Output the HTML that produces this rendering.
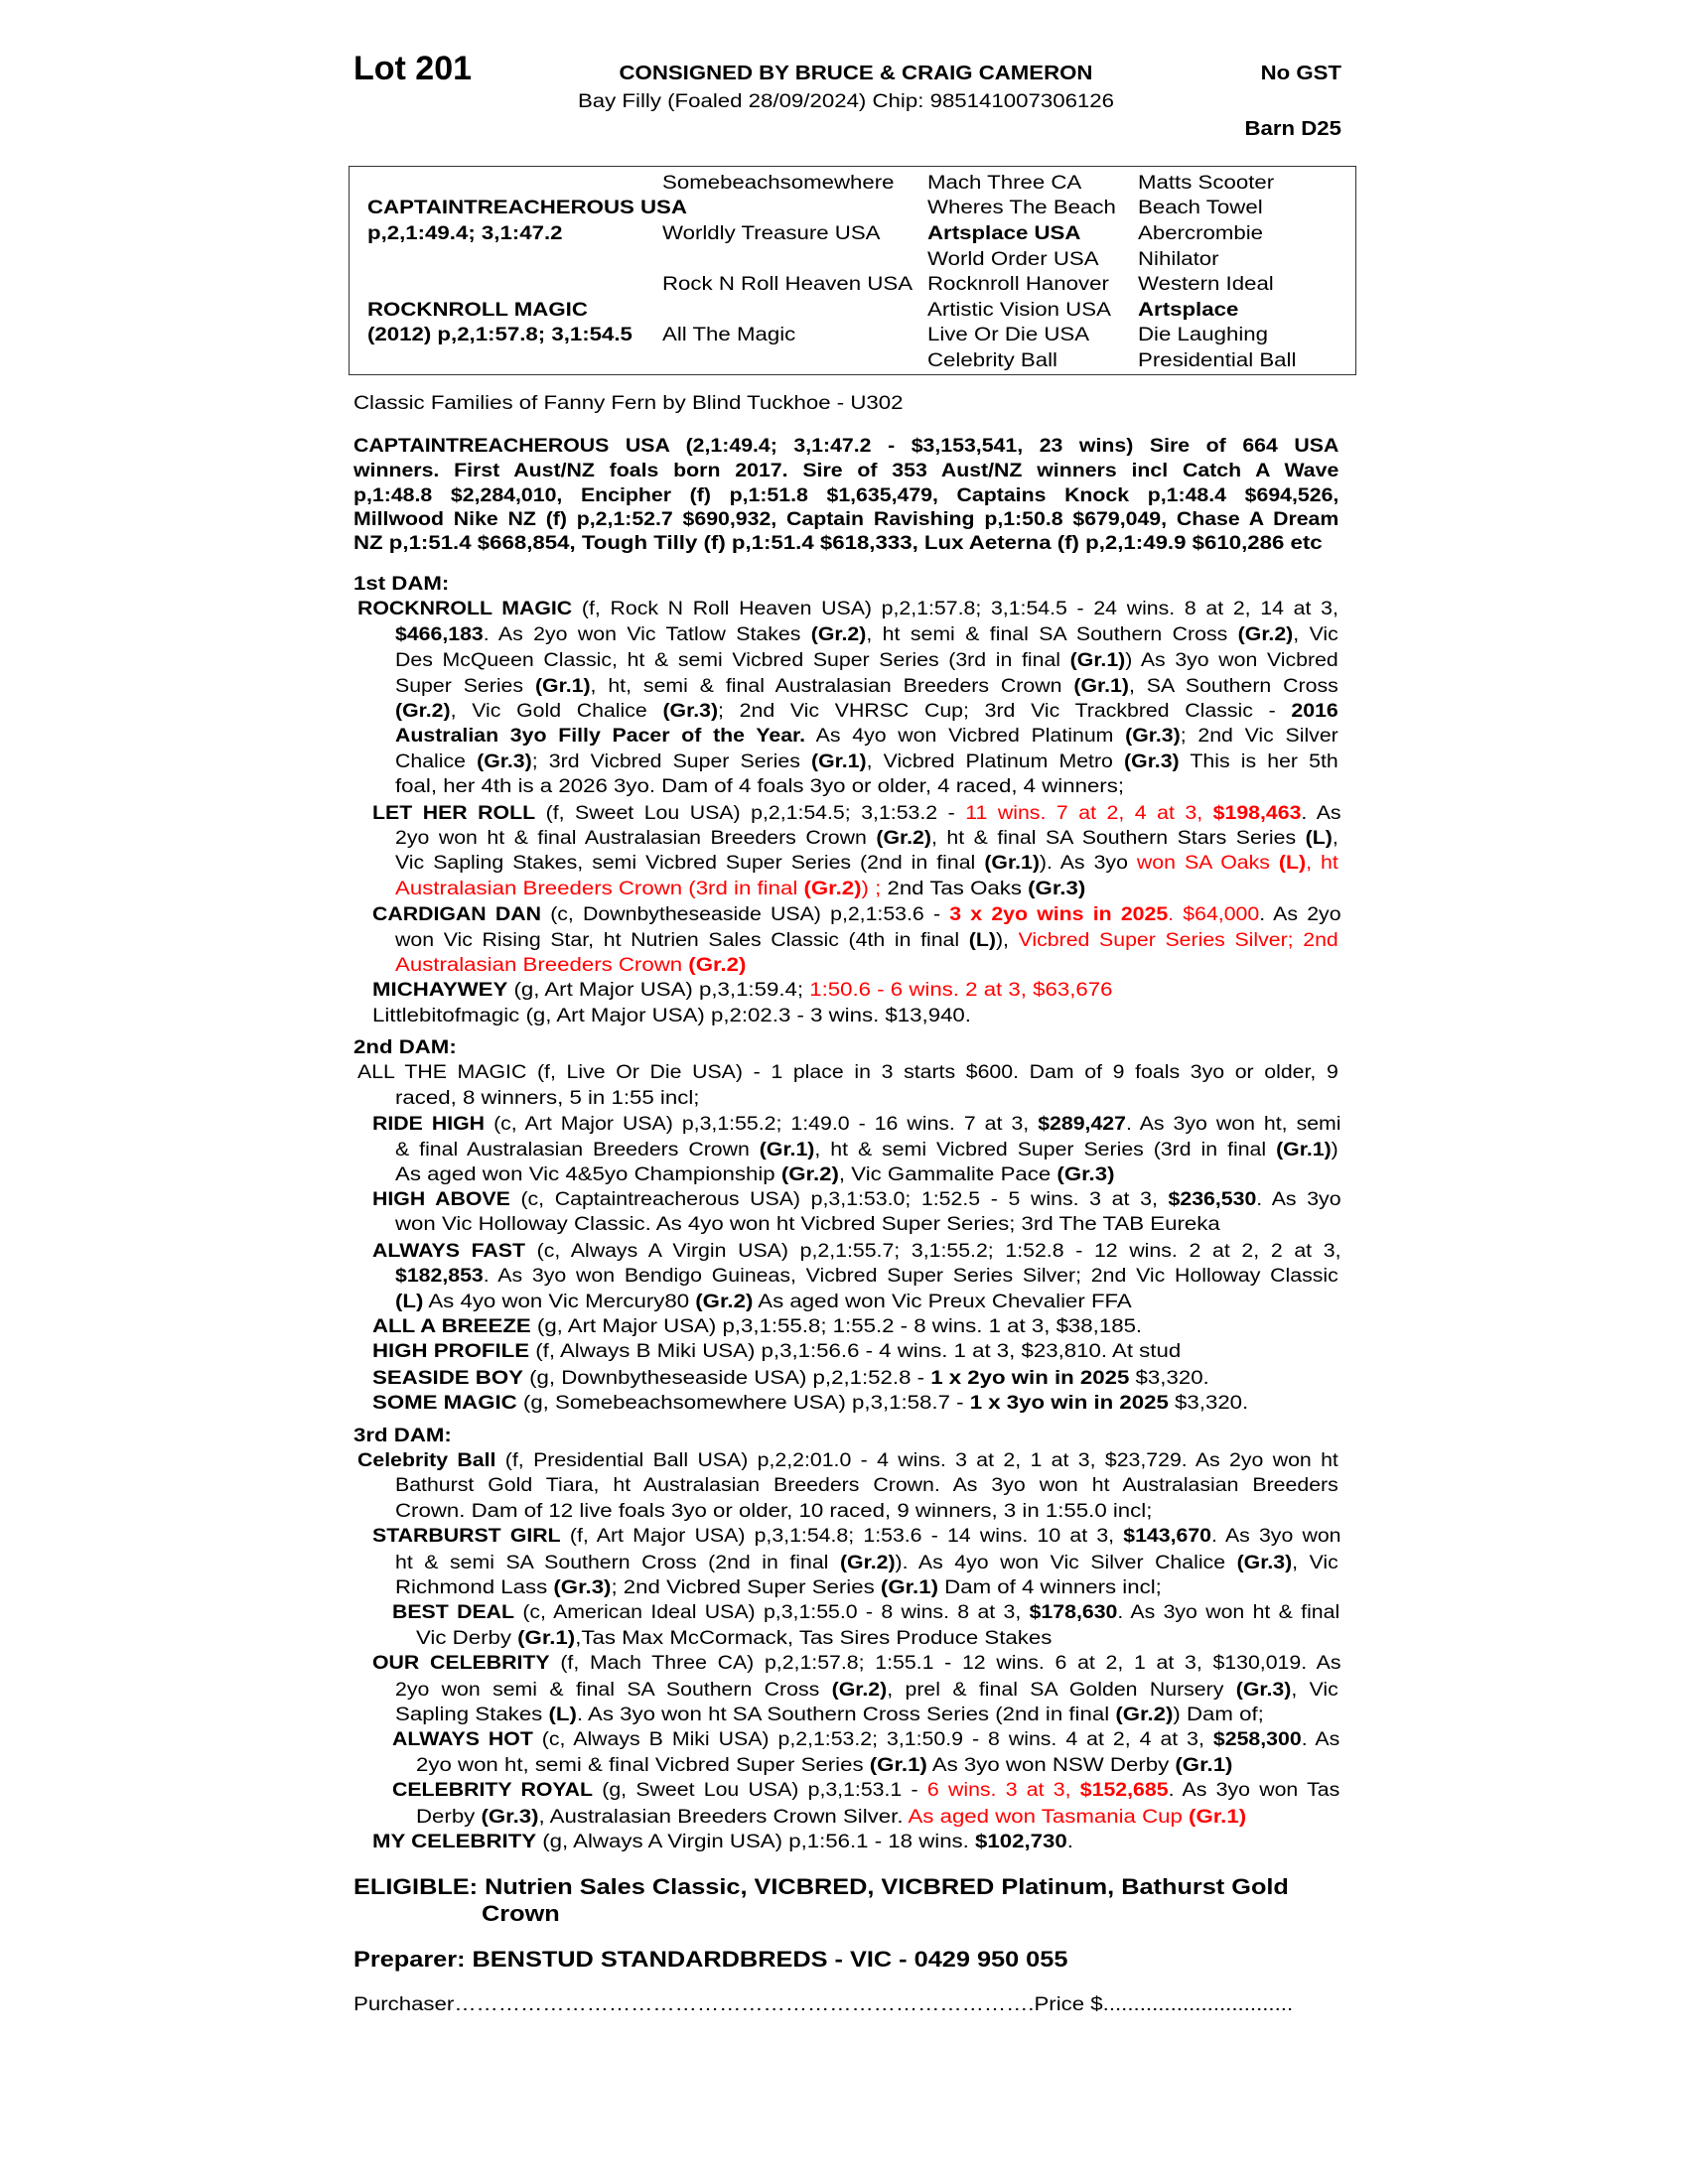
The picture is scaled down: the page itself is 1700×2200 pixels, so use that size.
<!DOCTYPE html>
<html><head><meta charset="utf-8"><style>
html,body{margin:0;padding:0;background:#fff}
body{width:1700px;height:2200px;position:relative;overflow:hidden;font-family:"Liberation Sans",Arial,sans-serif;color:#000}
.l{position:absolute;font-size:19px;line-height:26px;height:26px;white-space:nowrap;transform:scaleX(1.17);transform-origin:0 0}
.j{white-space:normal;overflow:hidden;text-align:justify;text-align-last:justify;transform:scaleX(1.12)}
.r{color:#f00}
.h{position:absolute;font-weight:bold;white-space:nowrap}
#box{position:absolute;left:351px;top:167px;width:1013px;height:209px;border:1.5px solid #333}
</style></head><body>

<div class="h" style="left:356px;top:49px;font-size:34px;line-height:40px">Lot 201</div>
<div class="h" style="left:562px;top:61px;width:600px;text-align:center;font-size:20px;line-height:26px;transform:scaleX(1.11);transform-origin:50% 0">CONSIGNED BY BRUCE &amp; CRAIG CAMERON</div>
<div class="h" style="left:1151px;top:61px;width:200px;text-align:right;font-size:20px;line-height:26px;transform:scaleX(1.11);transform-origin:100% 0">No GST</div>
<div class="l" style="left:552px;top:90px;width:600px;text-align:center;transform-origin:50% 0">Bay Filly (Foaled 28/09/2024) Chip: 985141007306126</div>
<div class="h" style="left:1151px;top:117px;width:200px;text-align:right;font-size:20px;line-height:26px;transform:scaleX(1.11);transform-origin:100% 0">Barn D25</div>

<div id="box"></div>
<div class="l" style="left:667px;top:172px">Somebeachsomewhere</div>
<div class="l" style="left:934px;top:172px">Mach Three CA</div>
<div class="l" style="left:1146px;top:172px">Matts Scooter</div>
<div class="l" style="left:370px;top:197px"><b>CAPTAINTREACHEROUS USA</b></div>
<div class="l" style="left:934px;top:197px">Wheres The Beach</div>
<div class="l" style="left:1146px;top:197px">Beach Towel</div>
<div class="l" style="left:370px;top:223px"><b>p,2,1:49.4; 3,1:47.2</b></div>
<div class="l" style="left:667px;top:223px">Worldly Treasure USA</div>
<div class="l" style="left:934px;top:223px"><b>Artsplace USA</b></div>
<div class="l" style="left:1146px;top:223px">Abercrombie</div>
<div class="l" style="left:934px;top:249px">World Order USA</div>
<div class="l" style="left:1146px;top:249px">Nihilator</div>
<div class="l" style="left:667px;top:274px">Rock N Roll Heaven USA</div>
<div class="l" style="left:934px;top:274px">Rocknroll Hanover</div>
<div class="l" style="left:1146px;top:274px">Western Ideal</div>
<div class="l" style="left:370px;top:300px"><b>ROCKNROLL MAGIC</b></div>
<div class="l" style="left:934px;top:300px">Artistic Vision USA</div>
<div class="l" style="left:1146px;top:300px"><b>Artsplace</b></div>
<div class="l" style="left:370px;top:325px"><b>(2012) p,2,1:57.8; 3,1:54.5</b></div>
<div class="l" style="left:667px;top:325px">All The Magic</div>
<div class="l" style="left:934px;top:325px">Live Or Die USA</div>
<div class="l" style="left:1146px;top:325px">Die Laughing</div>
<div class="l" style="left:934px;top:351px">Celebrity Ball</div>
<div class="l" style="left:1146px;top:351px">Presidential Ball</div>

<div class="l" style="left:356px;top:394px">Classic Families of Fanny Fern by Blind Tuckhoe - U302</div>

<div class="l j" style="left:356px;top:437px;width:886px"><b>CAPTAINTREACHEROUS USA (2,1:49.4; 3,1:47.2 - $3,153,541, 23 wins) Sire of 664 USA</b></div>
<div class="l j" style="left:356px;top:462px;width:886px"><b>winners. First Aust/NZ foals born 2017. Sire of 353 Aust/NZ winners incl Catch A Wave</b></div>
<div class="l j" style="left:356px;top:487px;width:886px"><b>p,1:48.8 $2,284,010, Encipher (f) p,1:51.8 $1,635,479, Captains Knock p,1:48.4 $694,526,</b></div>
<div class="l j" style="left:356px;top:511px;width:886px"><b>Millwood Nike NZ (f) p,2,1:52.7 $690,932, Captain Ravishing p,1:50.8 $679,049, Chase A Dream</b></div>
<div class="l" style="left:356px;top:535px"><b>NZ p,1:51.4 $668,854, Tough Tilly (f) p,1:51.4 $618,333, Lux Aeterna (f) p,2,1:49.9 $610,286 etc</b></div>

<div class="l" style="left:356px;top:576px"><b>1st DAM:</b></div>
<div class="l j" style="left:360px;top:601px;width:882px"><b>ROCKNROLL MAGIC</b> (f, Rock N Roll Heaven USA) p,2,1:57.8; 3,1:54.5 - 24 wins. 8 at 2, 14 at 3,</div>
<div class="l j" style="left:398px;top:627px;width:848px"><b>$466,183</b>. As 2yo won Vic Tatlow Stakes <b>(Gr.2)</b>, ht semi &amp; final SA Southern Cross <b>(Gr.2)</b>, Vic</div>
<div class="l j" style="left:398px;top:653px;width:848px">Des McQueen Classic, ht &amp; semi Vicbred Super Series (3rd in final <b>(Gr.1)</b>) As 3yo won Vicbred</div>
<div class="l j" style="left:398px;top:679px;width:848px">Super Series <b>(Gr.1)</b>, ht, semi &amp; final Australasian Breeders Crown <b>(Gr.1)</b>, SA Southern Cross</div>
<div class="l j" style="left:398px;top:704px;width:848px"><b>(Gr.2)</b>, Vic Gold Chalice <b>(Gr.3)</b>; 2nd Vic VHRSC Cup; 3rd Vic Trackbred Classic - <b>2016</b></div>
<div class="l j" style="left:398px;top:729px;width:848px"><b>Australian 3yo Filly Pacer of the Year.</b> As 4yo won Vicbred Platinum <b>(Gr.3)</b>; 2nd Vic Silver</div>
<div class="l j" style="left:398px;top:755px;width:848px">Chalice <b>(Gr.3)</b>; 3rd Vicbred Super Series <b>(Gr.1)</b>, Vicbred Platinum Metro <b>(Gr.3)</b> This is her 5th</div>
<div class="l" style="left:398px;top:780px">foal, her 4th is a 2026 3yo. Dam of 4 foals 3yo or older, 4 raced, 4 winners;</div>
<div class="l j" style="left:375px;top:807px;width:871px"><b>LET HER ROLL</b> (f, Sweet Lou USA) p,2,1:54.5; 3,1:53.2 - <span class="r">11 wins. 7 at 2, 4 at 3, <b>$198,463</b></span>. As</div>
<div class="l j" style="left:398px;top:832px;width:848px">2yo won ht &amp; final Australasian Breeders Crown <b>(Gr.2)</b>, ht &amp; final SA Southern Stars Series <b>(L)</b>,</div>
<div class="l j" style="left:398px;top:857px;width:848px">Vic Sapling Stakes, semi Vicbred Super Series (2nd in final <b>(Gr.1)</b>). As 3yo <span class="r">won SA Oaks <b>(L)</b>, ht</span></div>
<div class="l" style="left:398px;top:883px"><span class="r">Australasian Breeders Crown (3rd in final <b>(Gr.2)</b>) ;</span> 2nd Tas Oaks <b>(Gr.3)</b></div>
<div class="l j" style="left:375px;top:909px;width:871px"><b>CARDIGAN DAN</b> (c, Downbytheseaside USA) p,2,1:53.6 - <span class="r"><b>3 x 2yo wins in 2025</b>. $64,000</span>. As 2yo</div>
<div class="l j" style="left:398px;top:935px;width:848px">won Vic Rising Star, ht Nutrien Sales Classic (4th in final <b>(L)</b>), <span class="r">Vicbred Super Series Silver; 2nd</span></div>
<div class="l" style="left:398px;top:960px"><span class="r">Australasian Breeders Crown <b>(Gr.2)</b></span></div>
<div class="l" style="left:375px;top:985px"><b>MICHAYWEY</b> (g, Art Major USA) p,3,1:59.4; <span class="r">1:50.6 - 6 wins. 2 at 3, $63,676</span></div>
<div class="l" style="left:375px;top:1011px">Littlebitofmagic (g, Art Major USA) p,2:02.3 - 3 wins. $13,940.</div>

<div class="l" style="left:356px;top:1043px"><b>2nd DAM:</b></div>
<div class="l j" style="left:360px;top:1068px;width:882px">ALL THE MAGIC (f, Live Or Die USA) - 1 place in 3 starts $600. Dam of 9 foals 3yo or older, 9</div>
<div class="l" style="left:398px;top:1094px">raced, 8 winners, 5 in 1:55 incl;</div>
<div class="l j" style="left:375px;top:1120px;width:871px"><b>RIDE HIGH</b> (c, Art Major USA) p,3,1:55.2; 1:49.0 - 16 wins. 7 at 3, <b>$289,427</b>. As 3yo won ht, semi</div>
<div class="l j" style="left:398px;top:1146px;width:848px">&amp; final Australasian Breeders Crown <b>(Gr.1)</b>, ht &amp; semi Vicbred Super Series (3rd in final <b>(Gr.1)</b>)</div>
<div class="l" style="left:398px;top:1171px">As aged won Vic 4&amp;5yo Championship <b>(Gr.2)</b>, Vic Gammalite Pace <b>(Gr.3)</b></div>
<div class="l j" style="left:375px;top:1196px;width:871px"><b>HIGH ABOVE</b> (c, Captaintreacherous USA) p,3,1:53.0; 1:52.5 - 5 wins. 3 at 3, <b>$236,530</b>. As 3yo</div>
<div class="l" style="left:398px;top:1221px">won Vic Holloway Classic. As 4yo won ht Vicbred Super Series; 3rd The TAB Eureka</div>
<div class="l j" style="left:375px;top:1248px;width:871px"><b>ALWAYS FAST</b> (c, Always A Virgin USA) p,2,1:55.7; 3,1:55.2; 1:52.8 - 12 wins. 2 at 2, 2 at 3,</div>
<div class="l j" style="left:398px;top:1273px;width:848px"><b>$182,853</b>. As 3yo won Bendigo Guineas, Vicbred Super Series Silver; 2nd Vic Holloway Classic</div>
<div class="l" style="left:398px;top:1299px"><b>(L)</b> As 4yo won Vic Mercury80 <b>(Gr.2)</b> As aged won Vic Preux Chevalier FFA</div>
<div class="l" style="left:375px;top:1324px"><b>ALL A BREEZE</b> (g, Art Major USA) p,3,1:55.8; 1:55.2 - 8 wins. 1 at 3, $38,185.</div>
<div class="l" style="left:375px;top:1349px"><b>HIGH PROFILE</b> (f, Always B Miki USA) p,3,1:56.6 - 4 wins. 1 at 3, $23,810. At stud</div>
<div class="l" style="left:375px;top:1376px"><b>SEASIDE BOY</b> (g, Downbytheseaside USA) p,2,1:52.8 - <b>1 x 2yo win in 2025</b> $3,320.</div>
<div class="l" style="left:375px;top:1401px"><b>SOME MAGIC</b> (g, Somebeachsomewhere USA) p,3,1:58.7 - <b>1 x 3yo win in 2025</b> $3,320.</div>

<div class="l" style="left:356px;top:1434px"><b>3rd DAM:</b></div>
<div class="l j" style="left:360px;top:1459px;width:882px"><b>Celebrity Ball</b> (f, Presidential Ball USA) p,2,2:01.0 - 4 wins. 3 at 2, 1 at 3, $23,729. As 2yo won ht</div>
<div class="l j" style="left:398px;top:1484px;width:848px">Bathurst Gold Tiara, ht Australasian Breeders Crown. As 3yo won ht Australasian Breeders</div>
<div class="l" style="left:398px;top:1510px">Crown. Dam of 12 live foals 3yo or older, 10 raced, 9 winners, 3 in 1:55.0 incl;</div>
<div class="l j" style="left:375px;top:1535px;width:871px"><b>STARBURST GIRL</b> (f, Art Major USA) p,3,1:54.8; 1:53.6 - 14 wins. 10 at 3, <b>$143,670</b>. As 3yo won</div>
<div class="l j" style="left:398px;top:1562px;width:848px">ht &amp; semi SA Southern Cross (2nd in final <b>(Gr.2)</b>). As 4yo won Vic Silver Chalice <b>(Gr.3)</b>, Vic</div>
<div class="l" style="left:398px;top:1587px">Richmond Lass <b>(Gr.3)</b>; 2nd Vicbred Super Series <b>(Gr.1)</b> Dam of 4 winners incl;</div>
<div class="l j" style="left:395px;top:1612px;width:852px"><b>BEST DEAL</b> (c, American Ideal USA) p,3,1:55.0 - 8 wins. 8 at 3, <b>$178,630</b>. As 3yo won ht &amp; final</div>
<div class="l" style="left:419px;top:1638px">Vic Derby <b>(Gr.1)</b>,Tas Max McCormack, Tas Sires Produce Stakes</div>
<div class="l j" style="left:375px;top:1663px;width:871px"><b>OUR CELEBRITY</b> (f, Mach Three CA) p,2,1:57.8; 1:55.1 - 12 wins. 6 at 2, 1 at 3, $130,019. As</div>
<div class="l j" style="left:398px;top:1690px;width:848px">2yo won semi &amp; final SA Southern Cross <b>(Gr.2)</b>, prel &amp; final SA Golden Nursery <b>(Gr.3)</b>, Vic</div>
<div class="l" style="left:398px;top:1715px">Sapling Stakes <b>(L)</b>. As 3yo won ht SA Southern Cross Series (2nd in final <b>(Gr.2)</b>) Dam of;</div>
<div class="l j" style="left:395px;top:1740px;width:852px"><b>ALWAYS HOT</b> (c, Always B Miki USA) p,2,1:53.2; 3,1:50.9 - 8 wins. 4 at 2, 4 at 3, <b>$258,300</b>. As</div>
<div class="l" style="left:419px;top:1766px">2yo won ht, semi &amp; final Vicbred Super Series <b>(Gr.1)</b> As 3yo won NSW Derby <b>(Gr.1)</b></div>
<div class="l j" style="left:395px;top:1791px;width:852px"><b>CELEBRITY ROYAL</b> (g, Sweet Lou USA) p,3,1:53.1 - <span class="r">6 wins. 3 at 3, <b>$152,685</b></span>. As 3yo won Tas</div>
<div class="l" style="left:419px;top:1818px">Derby <b>(Gr.3)</b>, Australasian Breeders Crown Silver. <span class="r">As aged won Tasmania Cup <b>(Gr.1)</b></span></div>
<div class="l" style="left:375px;top:1843px"><b>MY CELEBRITY</b> (g, Always A Virgin USA) p,1:56.1 - 18 wins. <b>$102,730</b>.</div>

<div class="l" style="left:356px;top:1887px;font-size:22px;line-height:28px;height:28px;transform:scaleX(1.15)"><b>ELIGIBLE: Nutrien Sales Classic, VICBRED, VICBRED Platinum, Bathurst Gold</b></div>
<div class="l" style="left:485px;top:1914px;font-size:22px;line-height:28px;height:28px;transform:scaleX(1.15)"><b>Crown</b></div>
<div class="l" style="left:356px;top:1960px;font-size:22px;line-height:28px;height:28px;transform:scaleX(1.15)"><b>Preparer: BENSTUD STANDARDBREDS - VIC - 0429 950 055</b></div>
<div class="l" style="left:356px;top:2007px">Purchaser…………………………………………………………………….Price $...............................</div>

</body></html>
